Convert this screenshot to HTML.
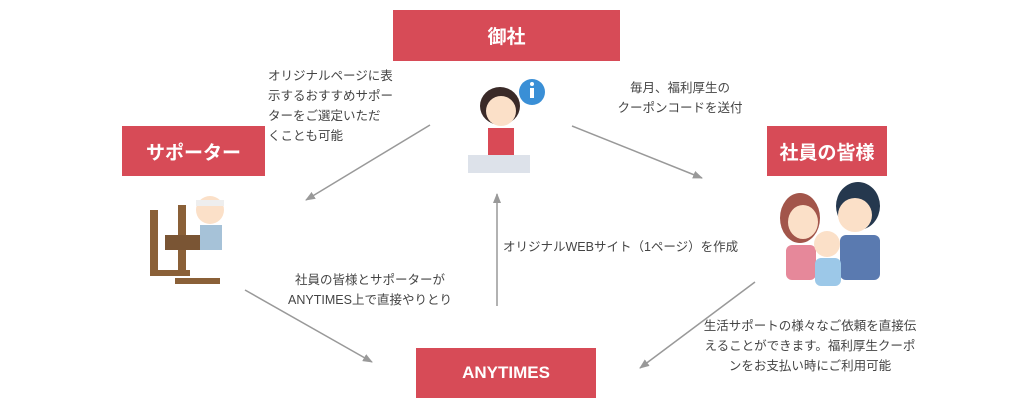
<!DOCTYPE html>
<html><head><meta charset="utf-8"><style>
body{margin:0;width:1024px;height:409px;background:#fff;position:relative;overflow:hidden;font-family:"Liberation Sans","Noto Sans CJK JP",sans-serif;}
.box{position:absolute;background:#d74b57;color:#fff;font-weight:bold;font-size:19px;display:flex;align-items:center;justify-content:center;}
.t{position:absolute;font-size:12.5px;color:#444;line-height:20px;white-space:nowrap;}
svg{position:absolute;left:0;top:0}
</style></head><body>
<svg width="1024" height="409">
<defs><marker id="a" markerWidth="10" markerHeight="8" refX="9" refY="4" orient="auto" markerUnits="userSpaceOnUse"><path d="M0,0L10,4L0,8z" fill="#999"/></marker></defs>
<g stroke="#999" stroke-width="1.5" fill="none" marker-end="url(#a)">
<line x1="430" y1="125" x2="306" y2="200"/>
<line x1="572" y1="126" x2="702" y2="178"/>
<line x1="497" y1="306" x2="497" y2="194"/>
<line x1="245" y1="290" x2="372" y2="362"/>
<line x1="755" y1="282" x2="640" y2="368"/>
</g>
<circle cx="532" cy="92" r="13" fill="#3a8fd6"/><rect x="530" y="88" width="4" height="10" fill="#fff"/><circle cx="532" cy="84" r="2" fill="#fff"/>
<ellipse cx="500" cy="106" rx="20" ry="19" fill="#3a2a28"/>
<ellipse cx="501" cy="111" rx="15" ry="15" fill="#fbe0c8"/>
<rect x="488" y="128" width="26" height="28" fill="#d94a56"/>
<rect x="468" y="155" width="62" height="18" fill="#dde2ea"/>
<rect x="150" y="210" width="8" height="60" fill="#8a6038"/><rect x="178" y="205" width="8" height="65" fill="#8a6038"/>
<rect x="165" y="235" width="40" height="15" fill="#7a5534"/><rect x="150" y="270" width="40" height="6" fill="#8a6038"/><rect x="175" y="278" width="45" height="6" fill="#8a6038"/>
<circle cx="210" cy="210" r="14" fill="#fbe0c8"/><rect x="196" y="200" width="28" height="6" fill="#eee"/><rect x="200" y="225" width="22" height="25" fill="#a6c2d8"/>
<ellipse cx="800" cy="218" rx="20" ry="25" fill="#a2554a"/><ellipse cx="803" cy="222" rx="15" ry="17" fill="#fbe0c8"/>
<ellipse cx="858" cy="206" rx="22" ry="24" fill="#25384e"/><ellipse cx="855" cy="215" rx="17" ry="17" fill="#fbe0c8"/>
<rect x="786" y="245" width="30" height="35" rx="6" fill="#e6889a"/><rect x="840" y="235" width="40" height="45" rx="6" fill="#5a7ab0"/>
<circle cx="827" cy="244" r="13" fill="#fbe0c8"/><rect x="815" y="258" width="26" height="28" rx="6" fill="#9cc8e8"/>
</svg>
<div class="box" style="left:393px;top:10px;width:227px;height:51px;">御社</div>
<div class="box" style="left:122px;top:126px;width:143px;height:50px;">サポーター</div>
<div class="box" style="left:767px;top:126px;width:120px;height:50px;">社員の皆様</div>
<div class="box" style="left:416px;top:348px;width:180px;height:50px;font-size:17px;">ANYTIMES</div>
<div class="t" style="left:268px;top:66px;">オリジナルページに表<br>示するおすすめサポー<br>ターをご選定いただ<br>くことも可能</div>
<div class="t" style="left:610px;top:78px;width:140px;text-align:center;">毎月、福利厚生の<br>クーポンコードを送付</div>
<div class="t" style="left:503px;top:237px;">オリジナルWEBサイト（1ページ）を作成</div>
<div class="t" style="left:285px;top:270px;width:170px;text-align:center;">社員の皆様とサポーターが<br>ANYTIMES上で直接やりとり</div>
<div class="t" style="left:700px;top:316px;width:220px;text-align:center;">生活サポートの様々なご依頼を直接伝<br>えることができます。福利厚生クーポ<br>ンをお支払い時にご利用可能</div>
</body></html>
